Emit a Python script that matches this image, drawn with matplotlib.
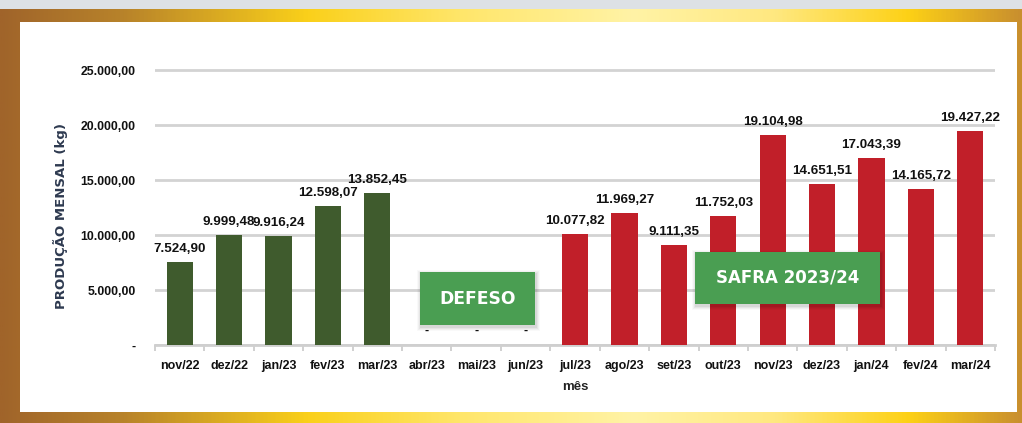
import numpy as np
import matplotlib
matplotlib.use("Agg")
import matplotlib.pyplot as plt
from matplotlib.colors import LinearSegmentedColormap
from matplotlib.patches import Rectangle

months = ["nov/22", "dez/22", "jan/23", "fev/23", "mar/23", "abr/23", "mai/23", "jun/23",
          "jul/23", "ago/23", "set/23", "out/23", "nov/23", "dez/23", "jan/24", "fev/24", "mar/24"]
values = [7524.90, 9999.48, 9916.24, 12598.07, 13852.45, 0, 0, 0,
          10077.82, 11969.27, 9111.35, 11752.03, 19104.98, 14651.51, 17043.39, 14165.72, 19427.22]
period = ["old"] * 8 + ["safra"] * 9
yticks = [0, 5000, 10000, 15000, 20000, 25000]
ytick_labels = ["-", "5.000,00", "10.000,00", "15.000,00", "20.000,00", "25.000,00"]

GREEN = "#3F5B2D"
RED = "#C11F29"
BOX = "#4A9E52"

def fmt_br(v):
    if v == 0:
        return "-"
    s = f"{v:,.2f}"
    return s.replace(",", "X").replace(".", ",").replace("X", ".")

W, H = 1022, 423
fig = plt.figure(figsize=(W / 100, H / 100), dpi=100)

# background frame
bg = fig.add_axes([0, 0, 1, 1])
bg.set_xlim(0, W)
bg.set_ylim(H, 0)
bg.axis("off")
cmap = LinearSegmentedColormap.from_list("frame", [
    (0.0, "#A0642A"), (0.12, "#B8832A"), (0.3, "#FAD01A"), (0.45, "#FFE66A"),
    (0.62, "#FFF3A6"), (0.76, "#FFE880"), (0.89, "#FDD116"), (1.0, "#C98F2E")])
grad = np.linspace(0, 1, 512).reshape(1, -1)
bg.imshow(grad, cmap=cmap, extent=[0, W, H, 9], aspect="auto")
bg.add_patch(Rectangle((0, 0), W, 9, color="#DDE1E5", lw=0))
bg.add_patch(Rectangle((20, 22), 997, 390, color="white", lw=0))

# main axes
ymax = 25200
px_per = 275 / 25000
ax = fig.add_axes([155 / W, 78 / H, 840 / W, ymax * px_per / H])
x = np.arange(len(months))
colors = [GREEN if p == "old" else RED for p in period]
bars = ax.bar(x, values, width=0.53, color=colors, zorder=3)
ax.set_xlim(-0.5, len(months) - 0.5)
ax.set_ylim(0, ymax)
ax.set_yticks(yticks)
ax.set_yticklabels(ytick_labels)
ax.set_xticks(x)
ax.set_xticklabels(months)
ax.set_xticks(np.arange(-0.5, len(months), 1), minor=True)
ax.tick_params(axis="x", which="major", length=0, pad=11)
ax.tick_params(axis="x", which="minor", length=4, color="#C8C8C8", width=1.2, direction="out")
ax.tick_params(axis="y", length=0, pad=14)
for lab in ax.get_xticklabels():
    lab.set_fontfamily("Liberation Sans")
    lab.set_fontweight("bold")
    lab.set_fontsize(9)
    lab.set_color("#111111")
for lab in ax.get_yticklabels():
    lab.set_fontfamily("Liberation Sans")
    lab.set_fontweight("bold")
    lab.set_fontsize(8.8)
    lab.set_color("#111111")
ax.grid(axis="y", color="#D3D3D3", lw=2, zorder=0)
for s in ["top", "right", "left"]:
    ax.spines[s].set_visible(False)
ax.spines["bottom"].set_color("#CFCFCF")
ax.spines["bottom"].set_linewidth(2)
ax.set_axisbelow(True)

for xi, v in zip(x, values):
    if v == 0:
        ax.annotate("-", (xi, 0), xytext=(0, 6), textcoords="offset points",
                    ha="center", va="bottom", fontsize=9, fontweight="bold",
                    family="Liberation Sans", color="#111111")
    else:
        ax.annotate(fmt_br(v), (xi, v), xytext=(0, 5), textcoords="offset points",
                    ha="center", va="bottom", fontsize=9.6, fontweight="bold",
                    family="Liberation Sans", color="#111111", zorder=5)

ax.set_xlabel("mês", fontsize=9.5, fontweight="bold", family="Liberation Sans",
              color="#222222", labelpad=6)
fig.text(60 / W, 1 - 216 / H, "PRODUÇÃO MENSAL (kg)", rotation=90, ha="center", va="center",
         fontsize=9.5, fontweight="bold", family="DejaVu Sans", color="#2E3A50")

# annotation boxes (pixel coordinates in figure)
def box(x0, y0, x1, y1, text, fs):
    for k, a in [(4, 0.025), (3, 0.035), (2, 0.045), (1, 0.06)]:
        sh = Rectangle((x0 - k + 1, y0 - k + 2), (x1 - x0) + 2 * k, (y1 - y0) + 2 * k,
                       color="black", alpha=a, lw=0, zorder=6, transform=bg.transData)
        fig.patches.append(sh)
    r = Rectangle((x0, y0), x1 - x0, y1 - y0, color=BOX, lw=0, zorder=7,
                  transform=bg.transData)
    fig.patches.append(r)
    fig.text(((x0 + x1) / 2) / W, 1 - ((y0 + y1) / 2) / H, text, ha="center", va="center",
             fontsize=fs, fontweight="bold", family="DejaVu Sans", color="white", zorder=8)

box(420, 272, 535, 325, "DEFESO", 12.3)
box(695, 252, 880, 304, "SAFRA 2023/24", 12)

fig.savefig("out.png", dpi=100)
